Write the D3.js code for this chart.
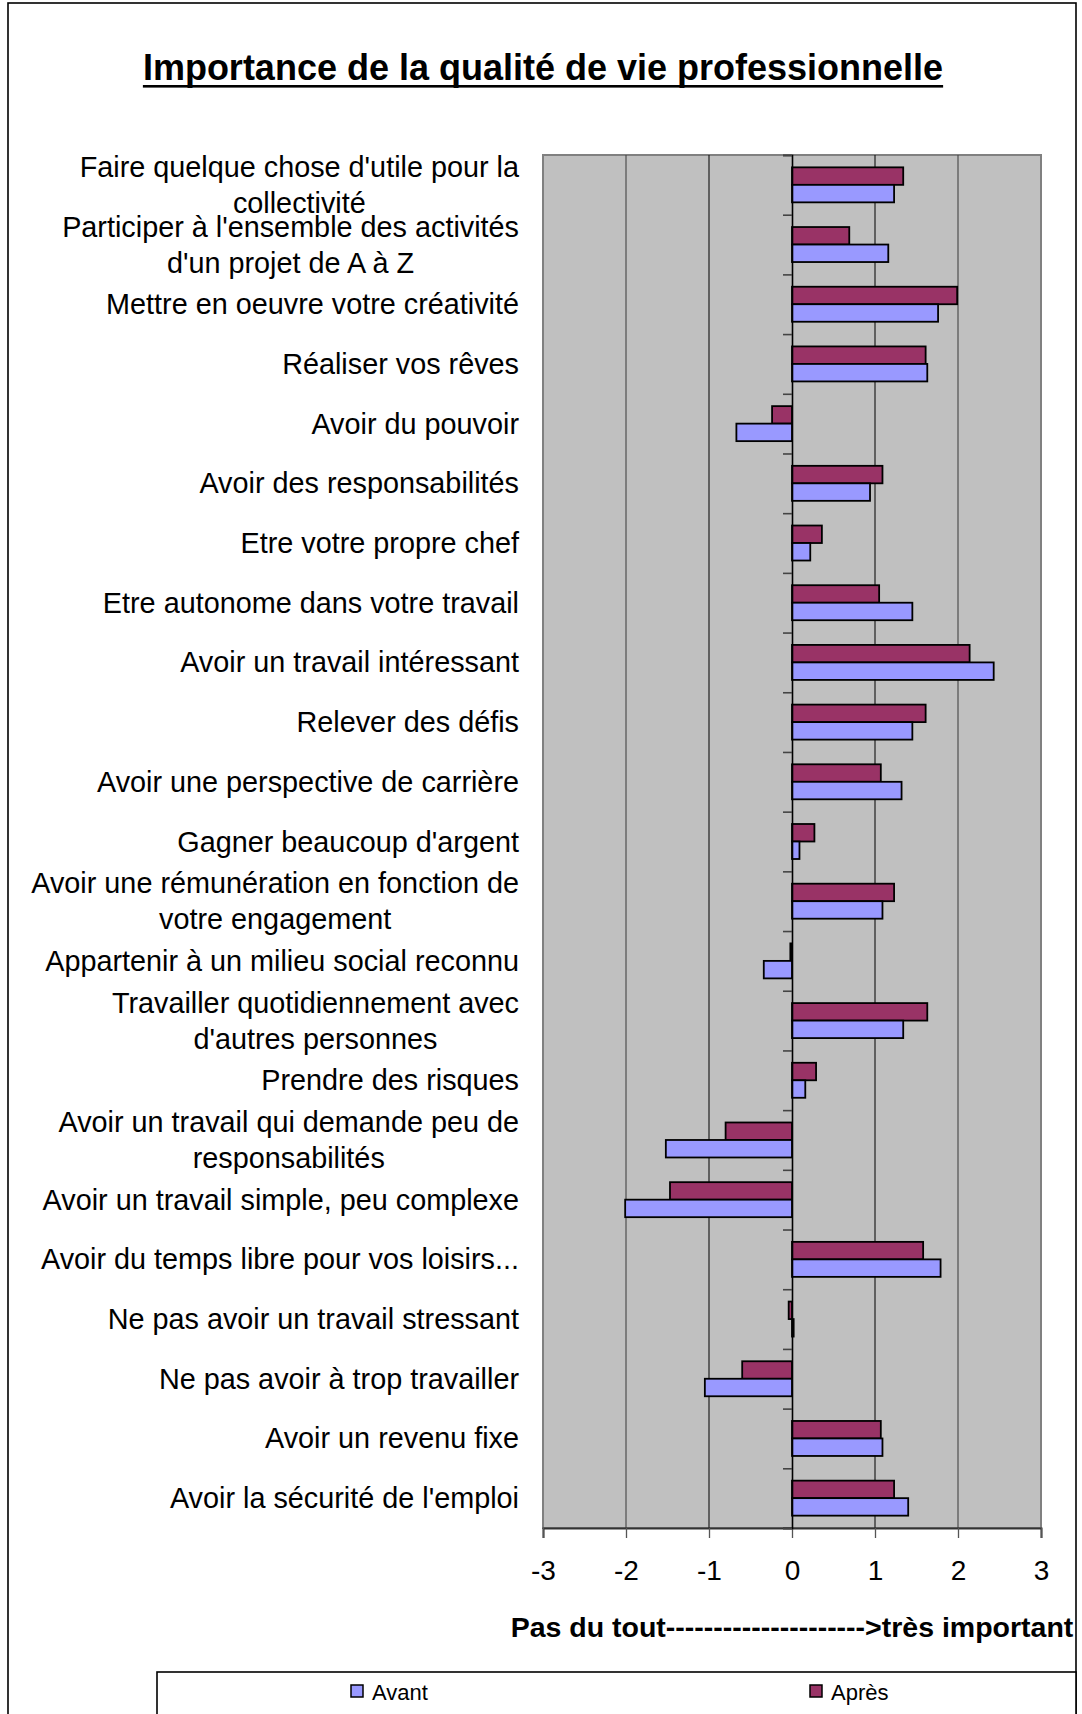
<!DOCTYPE html>
<html>
<head>
<meta charset="utf-8">
<script src="https://cdn.jsdelivr.net/npm/d3@7"></script>
<style>
  html, body { margin: 0; padding: 0; background: #fff; }
  svg { display: block; font-family: "Liberation Sans", Arial, sans-serif; }
</style>
</head>
<body>
<svg id="chart" width="1082" height="1714"></svg>
<script>
// ---- data ----
const categories = [
  "Faire quelque chose d'utile pour la\ncollectivité",
  "Participer à l'ensemble des activités\nd'un projet de A à Z",
  "Mettre en oeuvre votre créativité",
  "Réaliser vos rêves",
  "Avoir du pouvoir",
  "Avoir des responsabilités",
  "Etre votre propre chef",
  "Etre autonome dans votre travail",
  "Avoir un travail intéressant",
  "Relever des défis",
  "Avoir une perspective de carrière",
  "Gagner beaucoup d'argent",
  "Avoir une rémunération en fonction de\nvotre engagement",
  "Appartenir à un milieu social reconnu",
  "Travailler quotidiennement avec\nd'autres personnes",
  "Prendre des risques",
  "Avoir un travail qui demande peu de\nresponsabilités",
  "Avoir un travail simple, peu complexe",
  "Avoir du temps libre pour vos loisirs...",
  "Ne pas avoir un travail stressant",
  "Ne pas avoir à trop travailler",
  "Avoir un revenu fixe",
  "Avoir la sécurité de l'emploi"
];
const avant = [1.23, 1.16, 1.76, 1.63, -0.67, 0.94, 0.22, 1.45, 2.43, 1.45, 1.32, 0.09, 1.09, -0.34, 1.34, 0.16, -1.52, -2.01, 1.79, 0.02, -1.05, 1.09, 1.40];
const apres = [1.34, 0.69, 1.99, 1.61, -0.24, 1.09, 0.36, 1.05, 2.14, 1.61, 1.07, 0.27, 1.23, -0.02, 1.63, 0.29, -0.80, -1.47, 1.58, -0.04, -0.60, 1.07, 1.23];
const seriesNames = ["Avant", "Après"];
const xTicks = [-3, -2, -1, 0, 1, 2, 3];
const titleText = "Importance de la qualité de vie professionnelle";
const axisTitle = "Pas du tout--------------------->très important";

// ---- layout ----
const svg = d3.select("#chart");
const W = 1082, H = 1714;
const plot = { left: 543, right: 1041, top: 155, bottom: 1528 };
const colors = { "Avant": "#9999FF", "Après": "#993366" };

svg.append("rect").attr("width", W).attr("height", H).attr("fill", "#fff");
// outer chart border
svg.append("rect").attr("x", 8).attr("y", 3).attr("width", 1068).attr("height", H + 20)
  .attr("fill", "none").attr("stroke", "#000").attr("stroke-width", 1.6);

// title
const title = svg.append("text").attr("x", 543).attr("y", 80)
  .attr("text-anchor", "middle").attr("font-weight", "bold").attr("font-size", 36)
  .text(titleText);
const tb = title.node().getBBox();
svg.append("rect").attr("x", tb.x).attr("y", 85).attr("width", tb.width).attr("height", 2.6).attr("fill", "#000");

// scales
const x = d3.scaleLinear().domain([-3, 3]).range([plot.left, plot.right]);
const y = d3.scaleBand().domain(categories.map((c, i) => i)).range([plot.top, plot.bottom]).padding(0);
const bw = y.bandwidth();
const y1 = d3.scaleBand().domain(["Après", "Avant"]).range([(bw - 35) / 2, (bw + 35) / 2]).padding(0);

// plot background
svg.append("rect").attr("x", plot.left).attr("y", plot.top)
  .attr("width", plot.right - plot.left).attr("height", plot.bottom - plot.top)
  .attr("fill", "#C0C0C0").attr("stroke", "#808080").attr("stroke-width", 2);

// gridlines
svg.append("g").selectAll("line").data(xTicks.filter(t => t !== 0 && Math.abs(t) !== 3)).join("line")
  .attr("x1", d => x(d)).attr("x2", d => x(d)).attr("y1", plot.top).attr("y2", plot.bottom)
  .attr("stroke", d => Math.abs(d) === 2 ? "#444" : "#111").attr("stroke-width", 1.1);

// bars
const rows = categories.map((c, i) => ({ i, "Avant": avant[i], "Après": apres[i] }));
const g = svg.append("g");
rows.forEach(r => {
  ["Après", "Avant"].forEach(s => {
    const v = r[s];
    g.append("rect")
      .attr("x", x(Math.min(0, v)))
      .attr("y", y(r.i) + y1(s))
      .attr("width", Math.abs(x(v) - x(0)))
      .attr("height", y1.bandwidth())
      .attr("fill", colors[s]).attr("stroke", "#000").attr("stroke-width", 1.8);
  });
});

// bottom axis
const xAxis = d3.axisBottom(x).tickValues(xTicks).tickSize(10).tickPadding(22).tickFormat(d => String(d));
const ax = svg.append("g").attr("transform", `translate(0,${plot.bottom})`).call(xAxis);
ax.select(".domain").attr("stroke", "#333").attr("stroke-width", 2);
ax.selectAll(".tick line").attr("stroke", "#555").attr("stroke-width", 1.3);
ax.selectAll(".tick text").attr("font-size", 28).attr("fill", "#000")
  .attr("font-family", "'Liberation Sans', Arial, sans-serif");

// vertical zero axis with category ticks
const yAxis = d3.axisLeft(d3.scaleLinear().domain([0, categories.length]).range([plot.top, plot.bottom]))
  .tickValues(d3.range(categories.length + 1)).tickSize(9).tickFormat("");
const yax = svg.append("g").attr("transform", `translate(${x(0)},0)`).call(yAxis);
yax.select(".domain").attr("stroke", "#000").attr("stroke-width", 1.6);
yax.selectAll(".tick line").attr("stroke", "#444").attr("stroke-width", 1.6);

// category labels
const labelRight = 519, lineH = 36;
const lg = svg.append("g").attr("font-size", 28.8).attr("fill", "#000");
categories.forEach((c, i) => {
  const lines = c.split("\n");
  const cy = y(i) + bw / 2;
  const t = lg.append("text").attr("text-anchor", "middle");
  const spans = lines.map((ln, k) => t.append("tspan").attr("y", cy + (k - (lines.length - 1) / 2) * lineH + 10).text(ln));
  const maxW = d3.max(spans, s => s.node().getComputedTextLength());
  spans.forEach(s => s.attr("x", labelRight - maxW / 2));
});

// axis title
svg.append("text").attr("x", x(0)).attr("y", 1637).attr("text-anchor", "middle")
  .attr("font-weight", "bold").attr("font-size", 28.5).text(axisTitle);

// legend
svg.append("rect").attr("x", 157).attr("y", 1672).attr("width", 1076 - 157).attr("height", 80)
  .attr("fill", "#fff").attr("stroke", "#000").attr("stroke-width", 1.6);
const legX = { "Avant": 351, "Après": 810 };
seriesNames.forEach(s => {
  svg.append("rect").attr("x", legX[s]).attr("y", 1685).attr("width", 12).attr("height", 12)
    .attr("fill", colors[s]).attr("stroke", "#000").attr("stroke-width", 1.5);
  svg.append("text").attr("x", legX[s] + 21).attr("y", 1700).attr("font-size", 22).text(s);
});
</script>
</body>
</html>
